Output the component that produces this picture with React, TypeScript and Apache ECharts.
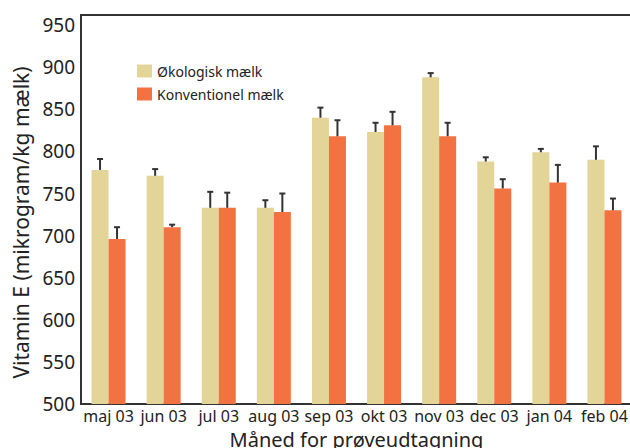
import React, { useEffect, useRef } from "react";
import * as echarts from "echarts";

const categories = ["maj 03", "jun 03", "jul 03", "aug 03", "sep 03", "okt 03", "nov 03", "dec 03", "jan 04", "feb 04"];
const okoValues = [778, 771, 733, 733, 840, 823, 888, 788, 799, 790];
const okoErr = [13, 8, 19, 9, 12, 11, 5, 5, 4, 16];
const konvValues = [696, 710, 733, 728, 818, 831, 818, 756, 763, 730];
const konvErr = [14, 3, 18, 22, 19, 16, 16, 11, 21, 14];
const seriesNames = ["Økologisk mælk", "Konventionel mælk"];

const FONT = "'Noto Sans', sans-serif";
const BAR_W = 17;

function errorSeries(values: number[], errs: number[], offset: number) {
  return {
    type: "custom",
    silent: true,
    z: 5,
    data: values.map((v, i) => [i, v, v + errs[i]]),
    encode: { x: 0, y: [1, 2] },
    renderItem: (params: any, api: any) => {
      const base = api.coord([api.value(0), api.value(1)]);
      const top = api.coord([api.value(0), api.value(2)]);
      const x = base[0] + offset;
      return {
        type: "group",
        children: [
          { type: "line", shape: { x1: x, y1: base[1], x2: x, y2: top[1] }, style: { stroke: "#333", lineWidth: 2 } },
          { type: "line", shape: { x1: x - 3, y1: top[1], x2: x + 3, y2: top[1] }, style: { stroke: "#333", lineWidth: 2 } },
        ],
      };
    },
  };
}

export default function App() {
  const ref = useRef<HTMLDivElement>(null);
  useEffect(() => {
    const chart = echarts.init(ref.current!, null, { renderer: "svg" });
    chart.setOption({
      animation: false,
      textStyle: { fontFamily: FONT },
      grid: {
        left: 81, right: -2, top: 15, bottom: 44,
        outerBoundsMode: "none", containLabel: false,
        show: true, borderColor: "#333", borderWidth: 2, backgroundColor: "transparent",
      },
      legend: {
        orient: "vertical",
        left: 137,
        top: 64,
        padding: 0,
        itemWidth: 15,
        itemHeight: 13,
        itemGap: 9,
        icon: "rect",
        textStyle: { fontSize: 14, color: "#222", fontFamily: FONT, lineHeight: 13 },
        data: seriesNames,
      },
      xAxis: {
        type: "category",
        data: categories,
        axisTick: { show: false },
        axisLine: { lineStyle: { color: "#333", width: 2 } },
        axisLabel: { interval: 0, fontSize: 16, color: "#222", margin: 4, fontFamily: FONT },
        name: "Måned for prøveudtagning",
        nameLocation: "middle",
        nameGap: 25,
        nameTextStyle: { fontSize: 20, color: "#222", fontFamily: FONT },
      },
      yAxis: {
        type: "value",
        min: 500,
        max: 962,
        interval: 50,
        splitLine: { show: false },
        axisTick: { show: false },
        axisLine: { show: true, lineStyle: { color: "#333", width: 2 } },
        axisLabel: { fontSize: 19, color: "#222", margin: 6, showMaxLabel: false, fontFamily: FONT },
        name: "Vitamin E (mikrogram/kg mælk)",
        nameLocation: "middle",
        nameGap: 50,
        nameTextStyle: { fontSize: 21, color: "#222", fontFamily: FONT, padding: [0, 26, 0, 0] },
      },
      series: [
        { name: seriesNames[0], type: "bar", data: okoValues, barWidth: BAR_W, barGap: "0%", itemStyle: { color: "#E3D498" } },
        { name: seriesNames[1], type: "bar", data: konvValues, barWidth: BAR_W, barGap: "0%", itemStyle: { color: "#F27242" } },
        errorSeries(okoValues, okoErr, -BAR_W / 2),
        errorSeries(konvValues, konvErr, BAR_W / 2),
      ],
    });
    return () => chart.dispose();
  }, []);
  return <div ref={ref} style={{ width: 630, height: 448, position: "absolute", left: 0, top: 0 }} />;
}
